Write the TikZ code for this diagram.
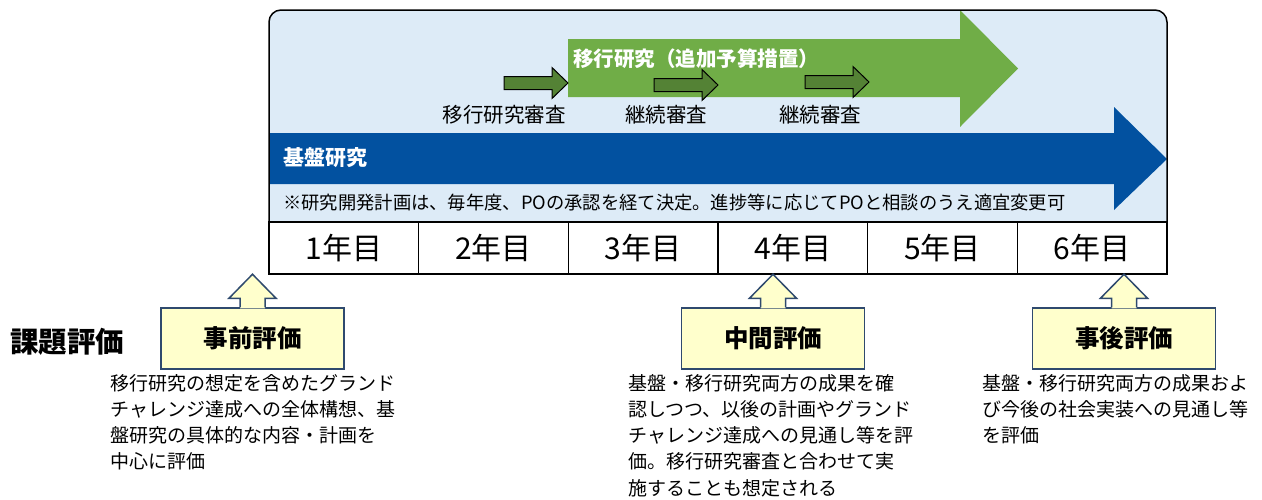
\documentclass[tikz,border=0pt]{standalone}
\usepackage{fontspec}
\setmainfont{Noto Sans CJK JP}
\definecolor{bgblue}{HTML}{DDEBF7}
\definecolor{mainblue}{HTML}{0251A0}
\definecolor{mainareen}{HTML}{70AD47}
\definecolor{darkgreen}{HTML}{548235}
\definecolor{evalfill}{HTML}{FFFFCC}
\definecolor{evalline}{HTML}{2F4A6E}
\tikzset{
  outline/.style={draw=black, line width=1.5pt},
  yearcell/.style={draw=black, line width=1.5pt, fill=white, minimum width=149.667pt, minimum height=52pt, inner sep=0pt, font=\fontsize{30}{33}\selectfont},
  evalbox/.style={draw=evalline, line width=1.5pt, fill=evalfill, minimum width=183pt, minimum height=61pt, inner sep=0pt, font=\fontsize{24.5}{27}\selectfont\bfseries},
  desc/.style={anchor=north west, inner sep=0pt, align=left, font=\fontsize{19}{26.2}\selectfont},
  review/.style={inner sep=0pt, font=\fontsize{20.5}{24}\selectfont},
  sarrow/.pic={\filldraw[fill=darkgreen, draw=black, line width=1pt, line join=miter]
     (0,-6.5) -- (48,-6.5) -- (48,-15.5) -- (64,0) -- (48,15.5) -- (48,6.5) -- (0,6.5) -- cycle;}
}
\newcommand\evalarrow[1]{%
  \begin{scope}[shift={(#1.north)}]
    \fill[evalfill] (-12.5,1) -- (-12.5,-9) -- (-23.5,-9) -- (0,-33) -- (23.5,-9) -- (12.5,-9) -- (12.5,1) -- cycle;
    \draw[evalline, line width=1.5pt, line join=miter] (-12.5,0) -- (-12.5,-9) -- (-23.5,-9) -- (0,-33) -- (23.5,-9) -- (12.5,-9) -- (12.5,0);
  \end{scope}}
\begin{document}
\begin{tikzpicture}[x=1pt, y=-1pt]
\useasboundingbox (0,0) rectangle (1262,499);
% background panel
\fill[bgblue, rounded corners=12pt] (269,10) rectangle (1167,274);
% green arrow (transition research)
\fill[mainareen] (568,39) -- (960,39) -- (960,10) -- (1018,68.5) -- (960,127) -- (960,97) -- (568,97) -- cycle;
\node[anchor=west, inner sep=0pt, text=white, font=\fontsize{20.5}{24}\selectfont\bfseries] (trans) at (573,59) {移行研究（追加予算措置）};
% blue arrow (basic research)
\fill[mainblue] (270,133) -- (1114,133) -- (1114,107) -- (1167,159) -- (1114,210) -- (1114,184) -- (270,184) -- cycle;
\node[anchor=west, inner sep=0pt, text=white, font=\fontsize{21}{24}\selectfont\bfseries] (basic) at (283,158) {基盤研究};
% review arrows
\pic (sa1) at (504,83) {sarrow};
\pic (sa2) at (654,85) {sarrow};
\pic (sa3) at (805,82) {sarrow};
\node[review] (rv1) at (504,115) {移行研究審査};
\node[review] (rv2) at (666,115) {継続審査};
\node[review] (rv3) at (820,115) {継続審査};
% note
\node[anchor=west, inner sep=0pt, font=\fontsize{18.3}{22}\selectfont] (note) at (283,203) {※研究開発計画は、毎年度、POの承認を経て決定。進捗等に応じてPOと相談のうえ適宜変更可};
% outer border
\draw[outline, rounded corners=12pt] (269,10) rectangle (1167,274);
% year table
\foreach \i in {1,...,6}{
  \node[yearcell] (y\i) at ({269+149.667*(\i-0.5)},248) {\i 年目};
}
% evaluation
\node[anchor=west, inner sep=0pt, font=\fontsize{28.5}{31}\selectfont\bfseries] (title) at (10,342) {課題評価};
\node[evalbox] (pre) at (252.5,338.5) {事前評価};
\node[evalbox] (mid) at (773,338.5) {中間評価};
\node[evalbox] (post) at (1124,338.5) {事後評価};
\evalarrow{pre}
\evalarrow{mid}
\evalarrow{post}
\node[desc] (predesc) at (110,374) {移行研究の想定を含めたグランド\\チャレンジ達成への全体構想、基\\盤研究の具体的な内容・計画を\\中心に評価};
\node[desc] (middesc) at (628,374) {基盤・移行研究両方の成果を確\\認しつつ、以後の計画やグランド\\チャレンジ達成への見通し等を評\\価。移行研究審査と合わせて実\\施することも想定される};
\node[desc] (postdesc) at (982,374) {基盤・移行研究両方の成果およ\\び今後の社会実装への見通し等\\を評価};
\end{tikzpicture}
\end{document}
